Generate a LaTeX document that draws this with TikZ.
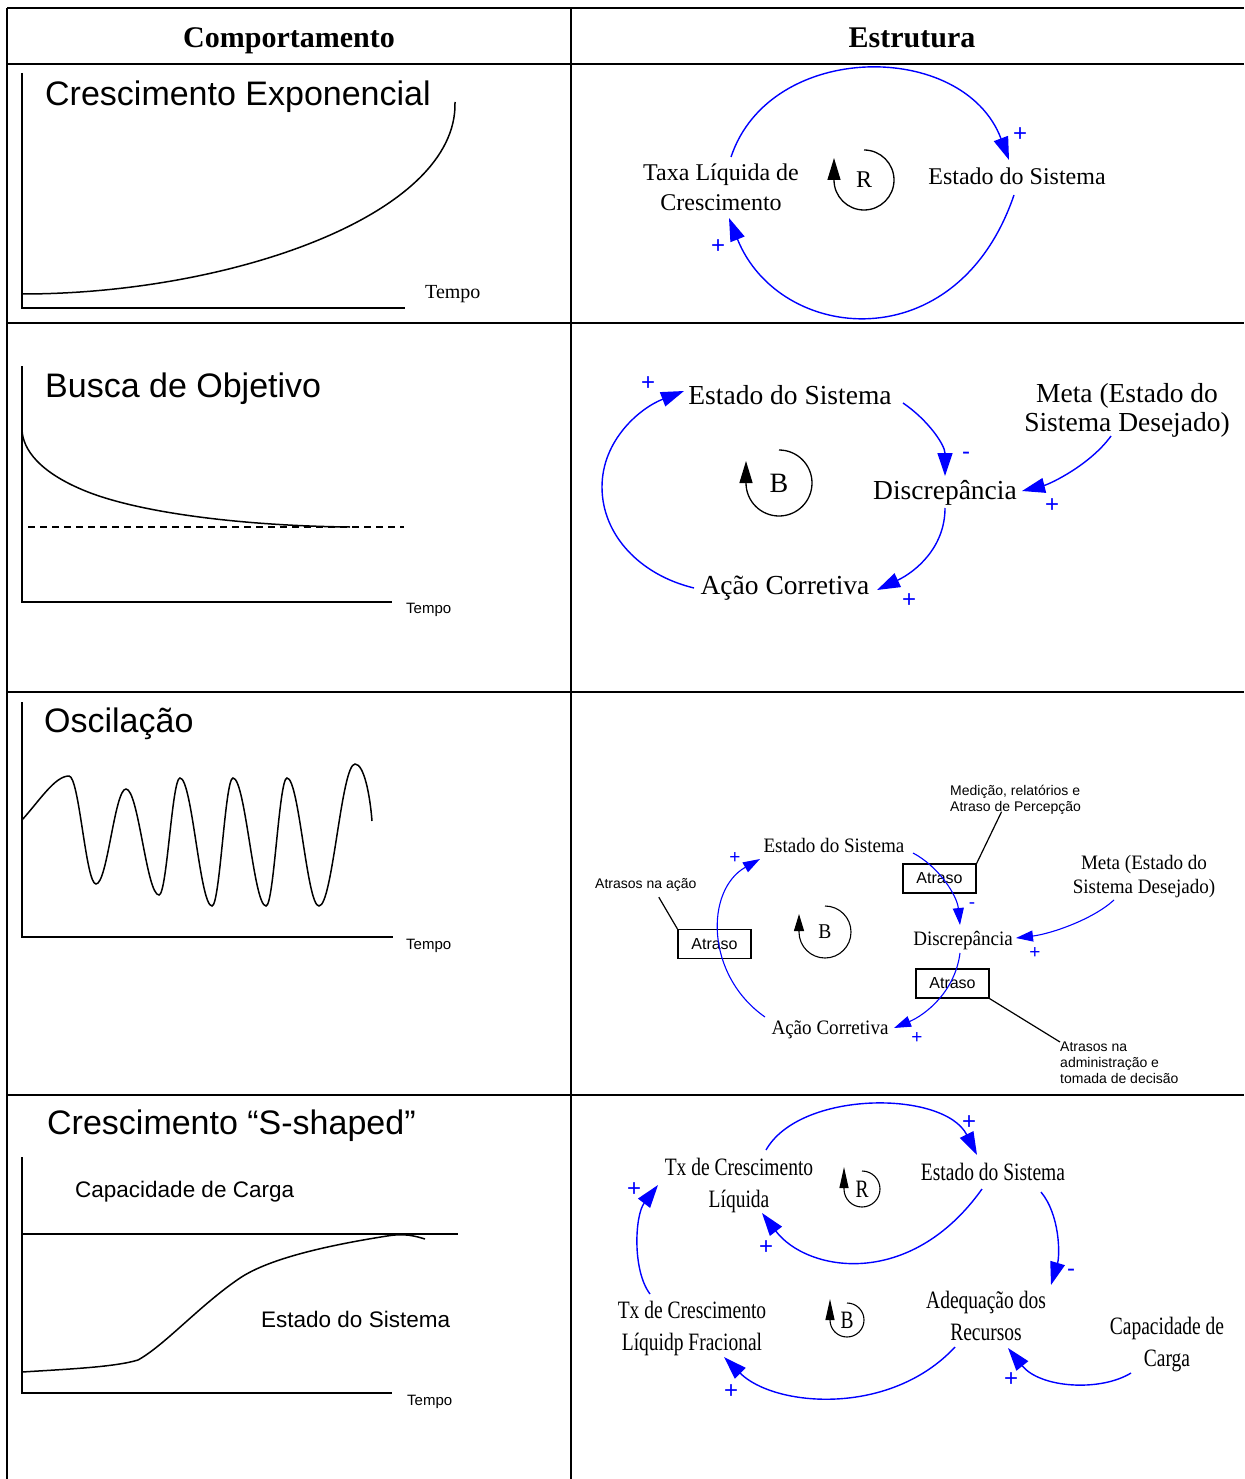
\documentclass[tikz,border=0pt]{standalone}
\usepackage{fontspec}
\setmainfont{Liberation Serif}
\setsansfont{Liberation Sans}
\newfontfamily\condserif[FakeStretch=0.78]{Liberation Serif}
\newfontfamily\slimserif[FakeStretch=0.93]{Liberation Serif}
\usetikzlibrary{arrows.meta}
\newcommand{\setfs}[2]{\fontsize{#1}{#2}\selectfont}

\begin{document}
\begin{tikzpicture}[x=1pt,y=-1pt,
  txt/.style={inner sep=0pt, align=center},
  grid/.style={line width=1.3pt},
  axis/.style={line width=2pt},
  curve/.style={line width=1.5pt},
  link/.style={draw=blue, line width=1.4pt, -{Triangle[length=23pt,width=15pt]}},
  linksm/.style={draw=blue, line width=1.1pt, -{Triangle[length=17pt,width=11pt]}},
  loopbig/.style={line width=1.3pt, -{Triangle[length=22pt,width=13pt]}},
  loopmid/.style={line width=1.1pt, -{Triangle[length=17pt,width=10pt]}},
  loopsm/.style={line width=1.1pt, -{Triangle[length=21pt,width=9pt]}},
  pol/.style={text=blue, inner sep=0pt, font=\sffamily\setfs{24}{26}},
  polsm/.style={text=blue, inner sep=0pt, font=\sffamily\setfs{19}{21}},
  delay/.style={draw, line width=1.3pt, minimum width=73pt, minimum height=29pt, inner sep=0pt, font=\sffamily\setfs{16}{18}},
  sfnote/.style={inner sep=0pt, align=left, font=\sffamily\setfs{14}{16}},
  gtitle/.style={inner sep=0pt, anchor=base west, font=\sffamily\setfs{34}{40}},
  gtime/.style={inner sep=0pt, anchor=base west, font=\sffamily\setfs{15}{18}},
  sA/.style={txt, font=\setfs{24}{30}},
  sB/.style={txt, font=\setfs{27.5}{29}},
  sC/.style={txt, font=\slimserif\setfs{20.5}{24}},
  sD/.style={txt, font=\condserif\setfs{25}{32}},
]
\useasboundingbox (0,0) rectangle (1244,1479);
\fill[white] (0,0) rectangle (1244,1479);

% table rules
\draw[grid] (7,8) -- (1244,8);
\draw[grid] (7,64) -- (1244,64);
\draw[grid] (7,323) -- (1244,323);
\draw[grid] (7,692) -- (1244,692);
\draw[grid] (7,1095) -- (1244,1095);
\draw[grid] (7,8) -- (7,1479);
\draw[grid] (571,8) -- (571,1479);

% headers
\node[txt, anchor=base, font=\bfseries\setfs{30}{34}] (hcomp) at (289,48) {Comportamento};
\node[txt, anchor=base, font=\bfseries\setfs{30}{34}] (hestr) at (912,48) {Estrutura};

% ---------- behaviour graphs ----------
% exponential growth
\node[gtitle] (titleA) at (45,106) {Crescimento Exponencial};
\draw[axis] (22,73) -- (22,308) -- (405,308);
\draw[curve] (22,294) .. controls (230,294) and (458,215) .. (455,102);
\node[inner sep=0pt, anchor=base west, font=\setfs{20}{24}] (timeA) at (425,298) {Tempo};

% goal seeking
\node[gtitle] (titleB) at (45,397) {Busca de Objetivo};
\draw[axis] (22,366) -- (22,602) -- (392,602);
\draw[line width=1.4pt, dash pattern=on 7pt off 5pt] (28,527) -- (404,527);
\draw[curve] (22,430) .. controls (23,450) and (40,472) .. (83,490)
  .. controls (140,514) and (250,526) .. (350,527);
\node[gtime] (timeB) at (406,613) {Tempo};

% oscillation
\node[gtitle] (titleC) at (44,732) {Oscilação};
\draw[axis] (22,702) -- (22,937) -- (393,937);
\draw[curve] (22,820) .. controls (40,800) and (55,776) .. (69,776)
  .. controls (79.3,776) and (85.7,884) .. (96,884)
  .. controls (107.4,884) and (114.6,789) .. (126,789)
  .. controls (138.5,789) and (146.5,895) .. (159,895)
  .. controls (167,895) and (172,778) .. (180,778)
  .. controls (192.2,778) and (199.8,906) .. (212,906)
  .. controls (220,906) and (225,778) .. (233,778)
  .. controls (245.5,778) and (253.5,906) .. (266,906)
  .. controls (274,906) and (279,778) .. (287,778)
  .. controls (299.2,778) and (306.8,906) .. (319,906)
  .. controls (332.7,906) and (341.3,764) .. (355,764)
  .. controls (364,764) and (370,795) .. (372,821);
\node[gtime] (timeC) at (406,949) {Tempo};

% S-shaped growth
\node[gtitle] (titleD) at (47,1134) {Crescimento “S-shaped”};
\draw[axis] (22,1157) -- (22,1393) -- (392,1393);
\draw[line width=1.4pt] (22,1234) -- (458,1234);
\node[inner sep=0pt, anchor=base west, font=\sffamily\setfs{22.5}{26}] (capD) at (75,1197) {Capacidade de Carga};
\node[inner sep=0pt, anchor=base west, font=\sffamily\setfs{22.5}{26}] (estD) at (261,1327) {Estado do Sistema};
\draw[curve] (22,1372) .. controls (70,1369) and (115,1367) .. (138,1360)
  .. controls (165,1345) and (200,1305) .. (240,1278)
  .. controls (270,1258) and (330,1245) .. (387,1236)
  .. controls (405,1233) and (415,1236) .. (425,1239);
\node[gtime] (timeD) at (407,1405) {Tempo};

% ---------- structures ----------
% reinforcing loop
\node[sA] (t1) at (721,187) {Taxa Líquida de\\Crescimento};
\node[sA, anchor=base] (e1) at (1017,185) {Estado do Sistema};
\node[sA] (r1) at (864,180) {R};
\draw[loopbig] ([shift={(0,-30)}]r1.center) arc[start angle=-90, end angle=180, radius=30] -- ++(0,-22);
\draw[link] ([shift={(10,-30)}]t1.center) .. controls (770,40) and (964,40) .. ([shift={(-8,-25)}]e1.base);
\draw[link] ([shift={(-3,10)}]e1.base) .. controls (957,362) and (779,343) .. ([shift={(8,31)}]t1.center);
\node[pol] (p1a) at (1020,135) {+};
\node[pol] (p1b) at (718,247) {+};

% balancing loop
\node[sB, anchor=base] (e2) at (790,404) {Estado do Sistema};
\node[sB] (m2) at (1127,410) {Meta (Estado do\\Sistema Desejado)};
\node[sB, anchor=base] (d2) at (945,499) {Discrepância};
\node[sB, anchor=base] (a2) at (785,594) {Ação Corretiva};
\node[txt, font=\setfs{28}{30}] (b2) at (779,483) {B};
\draw[loopbig] ([shift={(0,-33)}]b2.center) arc[start angle=-90, end angle=180, radius=33] -- ++(0,-22);
\draw[link] ([shift={(113,-1)}]e2.base) .. controls (928,420) and (945,445) .. ([shift={(0,-23)}]d2.base);
\draw[link] ([shift={(-16,26)}]m2.center) .. controls (1090,465) and (1050,484) .. ([shift={(77,-8)}]d2.base);
\draw[link] ([shift={(0,9)}]d2.base) .. controls (945,548) and (915,572) .. ([shift={(92,-4)}]a2.base);
\draw[link] ([shift={(-91,-6)}]a2.base) .. controls (640,575) and (602,535) .. (602,487)
  .. controls (602,440) and (640,408) .. ([shift={(-106,-13)}]e2.base);
\node[pol] (p2a) at (648,384) {+};
\node[pol] (p2b) at (966,456) {-};
\node[pol] (p2c) at (1052,506) {+};
\node[pol] (p2d) at (909,601) {+};

% balancing loop with delays
\node[sC, anchor=base] (e3) at (834,852) {Estado do Sistema};
\node[sC] (m3) at (1144,877) {Meta (Estado do\\Sistema Desejado)};
\node[sC, anchor=base] (d3) at (963,945) {Discrepância};
\node[sC, anchor=base] (a3) at (830,1034) {Ação Corretiva};
\node[txt, font=\slimserif\setfs{21}{24}] (b3) at (825,932) {B};
\node[delay] (atr1) at (939.5,878.5) {Atraso};
\node[delay] (atr2) at (714.5,944) {Atraso};
\node[delay] (atr3) at (952.5,983.5) {Atraso};
\node[sfnote, anchor=north west] (med3) at (950,785) {Medição, relatórios e\\Atraso de Percepção};
\node[sfnote, anchor=base west] (atrac) at (595,888) {Atrasos na ação};
\node[sfnote, anchor=north west] (atradm) at (1060,1042) {Atrasos na\\administração e\\tomada de decisão};
\draw[line width=1.2pt] (atr1.north east) -- ([shift={(-14,-3)}]med3.south);
\draw[line width=1.2pt] (atr2.north west) -- ([shift={(13,6)}]atrac.south);
\draw[line width=1.2pt] (atr3.south east) -- (atradm.north west);
\draw[loopmid] ([shift={(0,-26)}]b3.center) arc[start angle=-90, end angle=180, radius=26] -- ++(0,-18);
\draw[linksm] ([shift={(79,1)}]e3.base) .. controls (938,866) and (957,895) .. ([shift={(-3,-20)}]d3.base);
\draw[linksm] ([shift={(-30,23)}]m3.center) .. controls (1092,920) and (1050,934) .. ([shift={(53,-7)}]d3.base);
\draw[linksm] ([shift={(-3,8)}]d3.base) .. controls (955,992) and (925,1015) .. ([shift={(64,-6)}]a3.base);
\draw[linksm] ([shift={(-65,-17)}]a3.base) .. controls (705,975) and (705,890) .. ([shift={(-74,7)}]e3.base);
\node[polsm] (p3a) at (735,858) {+};
\node[polsm] (p3b) at (972,906) {-};
\node[polsm] (p3c) at (1035,953) {+};
\node[polsm] (p3d) at (917,1038) {+};

% growth with limits
\node[sD] (t4) at (739,1185) {Tx de Crescimento\\Líquida};
\node[sD, anchor=base] (e4) at (993,1180) {Estado do Sistema};
\node[sD] (r4) at (862,1189) {R};
\node[sD] (f4) at (692,1328) {Tx de Crescimento\\Líquidp Fracional};
\node[sD] (b4) at (847,1320) {B};
\node[sD] (q4) at (986,1316) {Adequação dos\\Recursos};
\node[sD] (c4) at (1167,1345) {Capacidade de\\Carga};
\draw[loopsm] ([shift={(0,-18)}]r4.center) arc[start angle=-90, end angle=180, radius=18] -- ++(0,-22);
\draw[loopsm] ([shift={(0,-17)}]b4.center) arc[start angle=-90, end angle=180, radius=17] -- ++(0,-21);
\draw[link] ([shift={(27,-35)}]t4.center) .. controls (800,1090) and (944,1090) .. ([shift={(-16,-25)}]e4.base);
\draw[link] ([shift={(-11,9)}]e4.base) .. controls (910,1290) and (807,1272) .. ([shift={(23,28)}]t4.center);
\draw[link] ([shift={(48,12)}]e4.base) .. controls (1060,1215) and (1060,1255) .. ([shift={(65,-31)}]q4.center);
\draw[link] ([shift={(-36,28)}]c4.center) .. controls (1100,1392) and (1040,1388) .. ([shift={(22,32)}]q4.center);
\draw[link] ([shift={(-31,31)}]q4.center) .. controls (890,1417) and (774,1407) .. ([shift={(32,29)}]f4.center);
\draw[link] ([shift={(-42,-34)}]f4.center) .. controls (632,1270) and (635,1215) .. ([shift={(-81,0)}]t4.center);
\node[pol] (p4a) at (969,1123) {+};
\node[pol] (p4b) at (766,1248) {+};
\node[pol] (p4c) at (1071,1273) {-};
\node[pol] (p4d) at (1011,1380) {+};
\node[pol] (p4e) at (731,1392) {+};
\node[pol] (p4f) at (634,1190) {+};
\end{tikzpicture}
\end{document}
